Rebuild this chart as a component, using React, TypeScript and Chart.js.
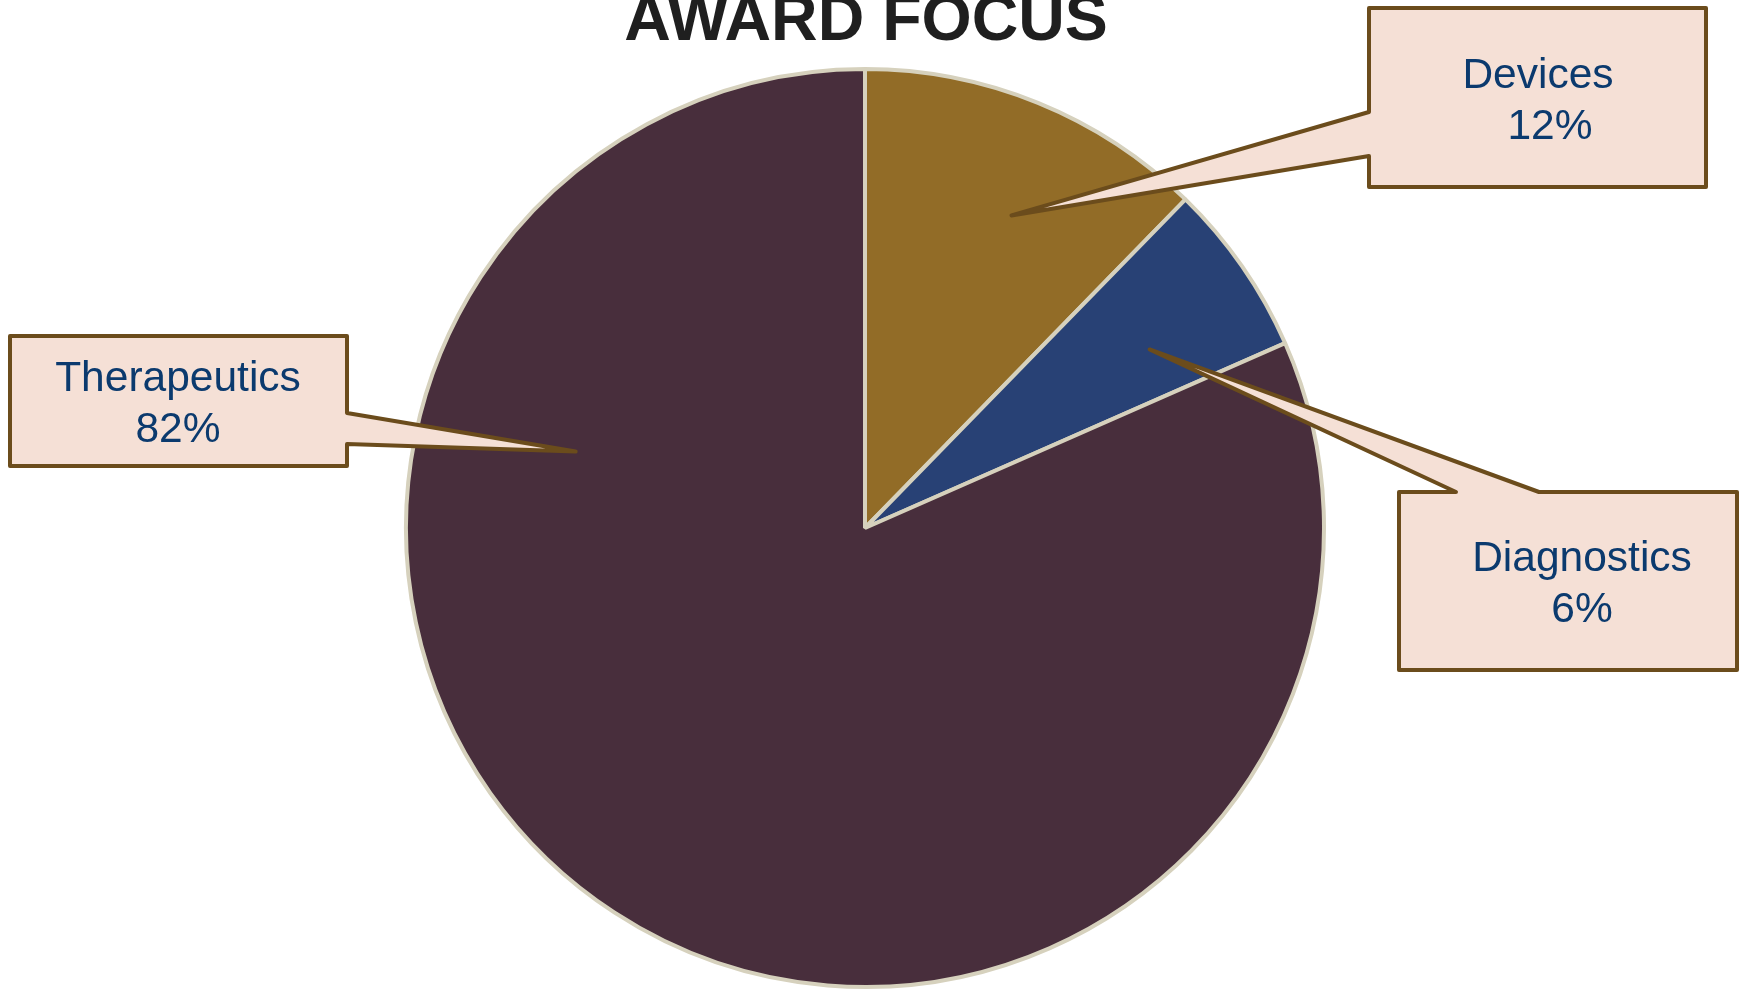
import React, { useEffect, useRef } from "react";
import { Chart, registerables } from "chart.js";

Chart.register(...registerables);

const titleText = "AWARD FOCUS";
const categories = ["Devices", "Diagnostics", "Therapeutics"];
const shares = [12.3, 6.1, 81.6];
const sliceColors = ["#926c27", "#284175", "#482e3c"];

type Callout = {
  box: [number, number, number, number];
  side: "left" | "top" | "right";
  joints: [number, number];
  angleFrac: number;
  radiusFrac: number;
  textX: number;
  line2Dx: number;
  baseline1: number;
};

const callouts: Callout[] = [
  { box: [1369, 8, 1706, 187], side: "left", joints: [112, 156], angleFrac: 0.567, radiusFrac: 0.752, textX: 1538, line2Dx: 12, baseline1: 88 },
  { box: [1399, 492, 1737, 670], side: "top", joints: [1456, 1539], angleFrac: 0.62, radiusFrac: 0.732, textX: 1582, line2Dx: 0, baseline1: 571 },
  { box: [10, 336, 347, 466], side: "right", joints: [413, 444], angleFrac: 0.744, radiusFrac: 0.652, textX: 178, line2Dx: 0, baseline1: 391 },
];

const calloutPlugin = {
  id: "callouts",
  afterDraw(chart: any) {
    const ctx = chart.ctx as CanvasRenderingContext2D;
    const meta = chart.getDatasetMeta(0);
    const data = chart.data.datasets[0].data as number[];
    const total = data.reduce((a, b) => a + b, 0);
    ctx.save();
    // title
    ctx.font = "bold 64.5px 'Liberation Sans', Arial, sans-serif";
    ctx.fillStyle = "#1f1f1f";
    ctx.textAlign = "center";
    ctx.textBaseline = "alphabetic";
    ctx.fillText(titleText, 866, 40);

    callouts.forEach((c, i) => {
      const arc = meta.data[i];
      if (!arc) return;
      const p = arc.getProps(["x", "y", "startAngle", "endAngle", "outerRadius"], true);
      const a = p.startAngle + (p.endAngle - p.startAngle) * c.angleFrac;
      const r = p.outerRadius * c.radiusFrac;
      const tx = p.x + r * Math.cos(a);
      const ty = p.y + r * Math.sin(a);
      const [x0, y0, x1, y1] = c.box;
      ctx.beginPath();
      if (c.side === "left") {
        ctx.moveTo(x0, y0);
        ctx.lineTo(x1, y0);
        ctx.lineTo(x1, y1);
        ctx.lineTo(x0, y1);
        ctx.lineTo(x0, c.joints[1]);
        ctx.lineTo(tx, ty);
        ctx.lineTo(x0, c.joints[0]);
        ctx.closePath();
      } else if (c.side === "top") {
        ctx.moveTo(x0, y0);
        ctx.lineTo(c.joints[0], y0);
        ctx.lineTo(tx, ty);
        ctx.lineTo(c.joints[1], y0);
        ctx.lineTo(x1, y0);
        ctx.lineTo(x1, y1);
        ctx.lineTo(x0, y1);
        ctx.closePath();
      } else {
        ctx.moveTo(x0, y0);
        ctx.lineTo(x1, y0);
        ctx.lineTo(x1, c.joints[0]);
        ctx.lineTo(tx, ty);
        ctx.lineTo(x1, c.joints[1]);
        ctx.lineTo(x1, y1);
        ctx.lineTo(x0, y1);
        ctx.closePath();
      }
      ctx.fillStyle = "#f5e0d6";
      ctx.fill();
      ctx.lineWidth = 4;
      ctx.lineJoin = "round";
      ctx.strokeStyle = "#6b4c1c";
      ctx.stroke();

      ctx.font = "42.5px 'Liberation Sans', Arial, sans-serif";
      ctx.fillStyle = "#0b3a6e";
      ctx.textAlign = "center";
      ctx.textBaseline = "alphabetic";
      const label = chart.data.labels[i] as string;
      const pct = Math.round((data[i] / total) * 100) + "%";
      ctx.fillText(label, c.textX, c.baseline1);
      ctx.fillText(pct, c.textX + c.line2Dx, c.baseline1 + 51);
    });
    ctx.restore();
  },
};

export default function App() {
  const canvasRef = useRef<HTMLCanvasElement | null>(null);
  useEffect(() => {
    document.body.style.margin = "0";
    document.body.style.overflow = "hidden";
    const canvas = canvasRef.current;
    if (!canvas) return;
    const chart = new Chart(canvas, {
      type: "pie",
      data: {
        labels: categories,
        datasets: [
          {
            data: shares,
            backgroundColor: sliceColors,
            borderColor: "#d6d1bd",
            borderWidth: 4,
          },
        ],
      },
      options: {
        animation: false,
        responsive: true,
        maintainAspectRatio: false,
        layout: { padding: { top: 67, bottom: 1, left: 0, right: 12 } },
        plugins: {
          legend: { display: false },
          tooltip: { enabled: false },
          title: { display: false },
        },
      },
      plugins: [calloutPlugin],
    });
    return () => chart.destroy();
  }, []);
  return (
    <div style={{ width: "100vw", height: "100vh", position: "relative" }}>
      <canvas ref={canvasRef} />
    </div>
  );
}
